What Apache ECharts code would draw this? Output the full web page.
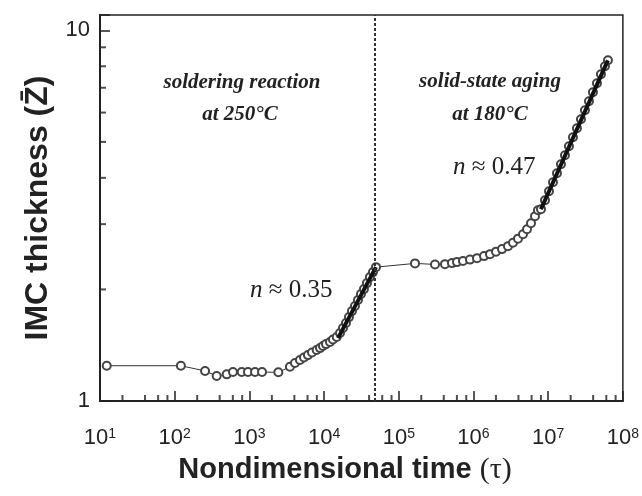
<!DOCTYPE html>
<html>
<head>
<meta charset="utf-8">
<script src="https://cdn.jsdelivr.net/npm/echarts@6/dist/echarts.min.js"></script>
<style>html,body{margin:0;padding:0;background:#fff}#chart{width:642px;height:496px}</style>
</head>
<body>
<div id="chart"></div>
<script>
// soldering reaction, 250 C (left of the dashed line)
var tauSolder = [12.3, 121, 255, 365, 497, 603, 789, 957, 1189, 1476, 2440, 3490, 4074, 4750, 5383, 6080, 6888, 7950, 8810, 9660, 10600, 11990, 13140, 14760,
  16330, 17910, 19640, 21530, 23610, 25910, 28420, 31170, 34180, 37480, 41100, 45170, 49530];
var zSolder = [1.245, 1.245, 1.205, 1.168, 1.180, 1.197, 1.197, 1.197, 1.197, 1.197, 1.195, 1.237, 1.266, 1.290, 1.310, 1.330, 1.351, 1.373, 1.389, 1.407, 1.424, 1.442, 1.465, 1.488,
  1.525, 1.573, 1.623, 1.684, 1.748, 1.804, 1.872, 1.943, 2.004, 2.080, 2.159, 2.227, 2.297];
// solid-state aging, 180 C
var tauAging = [164800, 305300, 415200, 515200, 601300, 722900, 897400, 1.114e6, 1.383e6, 1.664e6, 2.001e6, 2.408e6, 2.896e6, 3.38e6, 3.943e6, 4.6e6, 5.204e6, 5.888e6, 6.66e6, 7.3e6,
  8.01e6, 9.06e6, 1.025e7, 1.159e7, 1.311e7, 1.483e7, 1.678e7, 1.898e7, 2.147e7, 2.428e7, 2.747e7, 3.107e7, 3.515e7, 3.976e7, 4.498e7, 5.088e7, 5.755e7, 6.316e7];
var zAging = [2.351, 2.336, 2.340, 2.355, 2.370, 2.385, 2.407, 2.429, 2.460, 2.490, 2.529, 2.569, 2.617, 2.674, 2.742, 2.819, 2.908, 3.018, 3.152, 3.272,
  3.293, 3.481, 3.681, 3.893, 4.118, 4.353, 4.604, 4.868, 5.147, 5.442, 5.756, 6.086, 6.435, 6.806, 7.195, 7.609, 7.998, 8.301];
// power-law fits (end points)
var fitSolderTau = [15350, 49530], fitSolderZ = [1.478, 2.297];
var fitAgingTau = [8.0e6, 6.3e7], fitAgingZ = [3.29, 8.30];
var boundaryTau = 48000;
// minor tick multipliers
var xMinorMult = [2, 4, 6, 8];
var yMinorMult = [2, 3, 4, 5, 6, 7, 8, 9];
var xDecades = [10, 100, 1e3, 1e4, 1e5, 1e6, 1e7];

function pairs(xs, ys) {
  var out = [];
  for (var i = 0; i < xs.length; i++) out.push([xs[i], ys[i]]);
  return out;
}
var allData = pairs(tauSolder.concat(tauAging), zSolder.concat(zAging));

var xMinorTicks = [];
xDecades.forEach(function (d) {
  xMinorMult.forEach(function (m) { xMinorTicks.push([d * m, 1]); });
});
var yMinorTicks = yMinorMult.map(function (m) { return [10, m]; });

var ink = '#222';
var chart = echarts.init(document.getElementById('chart'));
var option = {
  animation: false,
  grid: {left: 100, top: 15, width: 523, height: 386, show: true, borderColor: ink, borderWidth: 1.5, backgroundColor: 'transparent'},
  xAxis: {
    type: 'log', logBase: 10, min: 10, max: 1e8,
    axisLine: {lineStyle: {color: ink, width: 2}},
    axisTick: {inside: true, length: 10, lineStyle: {color: ink, width: 1.5}},
    splitLine: {show: false},
    axisLabel: {
      margin: 26, color: ink, fontFamily: 'Liberation Sans', fontSize: 22,
      formatter: function (v) {
        var e = Math.round(Math.log(v) / Math.LN10);
        return '10{s|' + e + '}';
      },
      rich: {s: {fontSize: 14, fontFamily: 'Liberation Sans', color: ink, verticalAlign: 'top', lineHeight: 6}}
    }
  },
  yAxis: {
    type: 'log', logBase: 10, min: 1, max: 11,
    axisLine: {lineStyle: {color: ink, width: 2}},
    axisTick: {inside: true, length: 10, lineStyle: {color: ink, width: 1.5}},
    splitLine: {show: false},
    axisLabel: {
      margin: 10, color: ink, fontFamily: 'Liberation Sans', fontSize: 22,
      formatter: function (v) {
        var e = Math.log(v) / Math.LN10;
        return Math.abs(e - Math.round(e)) < 1e-6 ? String(Math.round(v)) : '';
      }
    }
  },
  series: [
    {
      type: 'line', data: allData, symbol: 'emptyCircle', symbolSize: 8,
      itemStyle: {color: '#444', borderWidth: 1},
      lineStyle: {color: '#333', width: 1},
      z: 3,
      markLine: {
        silent: true, symbol: 'none', label: {show: false},
        lineStyle: {color: '#333', type: [3, 2], width: 2},
        data: [{xAxis: boundaryTau}]
      }
    },
    {type: 'line', data: pairs(fitSolderTau, fitSolderZ), symbol: 'none', lineStyle: {color: '#111', width: 4}, z: 4},
    {type: 'line', data: pairs(fitAgingTau, fitAgingZ), symbol: 'none', lineStyle: {color: '#111', width: 4}, z: 4},
    {type: 'scatter', data: xMinorTicks, symbol: 'rect', symbolSize: [2, 6], symbolOffset: [0, -3], itemStyle: {color: ink}, clip: false, silent: true},
    {type: 'scatter', data: yMinorTicks, symbol: 'rect', symbolSize: [6, 2], symbolOffset: [3, 0], itemStyle: {color: ink}, clip: false, silent: true}
  ],
  graphic: [
    {type: 'text', x: 242, y: 83, style: {text: 'soldering reaction', font: 'italic bold 21px "Liberation Serif"', fill: ink, align: 'center', verticalAlign: 'middle'}},
    {type: 'text', x: 240, y: 115, style: {text: 'at 250°C', font: 'italic bold 21px "Liberation Serif"', fill: ink, align: 'center', verticalAlign: 'middle'}},
    {type: 'text', x: 490, y: 82, style: {text: 'solid-state aging', font: 'italic bold 21px "Liberation Serif"', fill: ink, align: 'center', verticalAlign: 'middle'}},
    {type: 'text', x: 490, y: 115, style: {text: 'at 180°C', font: 'italic bold 21px "Liberation Serif"', fill: ink, align: 'center', verticalAlign: 'middle'}},
    {type: 'text', x: 250, y: 290, style: {text: '{i|n} ≈ 0.35', font: '25px "Liberation Serif"', fill: ink, verticalAlign: 'middle',
      rich: {i: {font: 'italic 25px "Liberation Serif"', fill: ink}}}},
    {type: 'text', x: 453, y: 167, style: {text: '{i|n} ≈ 0.47', font: '25px "Liberation Serif"', fill: ink, verticalAlign: 'middle',
      rich: {i: {font: 'italic 25px "Liberation Serif"', fill: ink}}}},
    {type: 'text', x: 38, y: 208, rotation: Math.PI / 2, style: {text: 'IMC thickness (Z\u0304)', font: 'bold 32px "Liberation Sans"', fill: ink, align: 'center', verticalAlign: 'middle'}},
    {type: 'text', x: 345, y: 470, style: {text: 'Nondimensional time {t|(τ)}', font: 'bold 29px "Liberation Sans"', fill: ink, align: 'center', verticalAlign: 'middle',
      rich: {t: {font: '30px "Liberation Serif"', fill: ink}}}}
  ]
};
chart.setOption(option);
</script>
</body>
</html>
